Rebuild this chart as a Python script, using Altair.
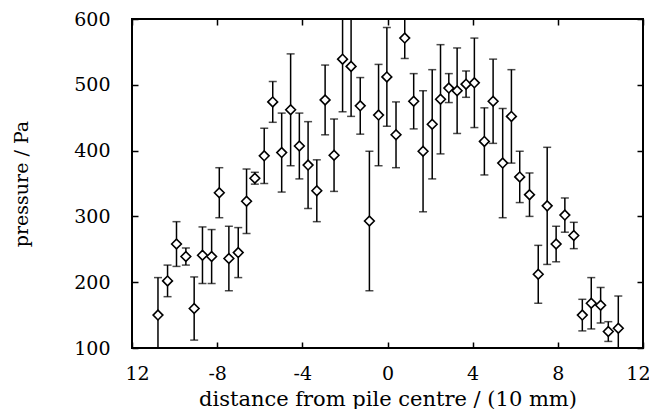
import altair as alt
import pandas as pd

# distance from pile centre (units of 10 mm)
distance = [-10.78, -10.33, -9.91, -9.47, -9.08, -8.69, -8.26, -7.90, -7.45, -7.01,
            -6.62, -6.23, -5.79, -5.39, -4.97, -4.55, -4.14, -3.73, -3.32, -2.93,
            -2.51, -2.11, -1.71, -1.28, -0.85, -0.42, -0.03, 0.40, 0.81, 1.23,
            1.67, 2.10, 2.49, 2.88, 3.27, 3.69, 4.08, 4.55, 4.96, 5.41,
            5.82, 6.21, 6.67, 7.08, 7.50, 7.92, 8.33, 8.75, 9.15, 9.57,
            10.01, 10.37, 10.84]
# pressure (Pa)
pressure = [150, 202, 258, 239, 160, 241, 239, 336, 236, 245,
            323, 358, 392, 474, 397, 462, 407, 378, 339, 477,
            393, 539, 528, 468, 293, 454, 512, 424, 571, 475,
            399, 440, 478, 495, 491, 501, 503, 414, 475, 381,
            452, 360, 333, 212, 316, 258, 302, 271, 150, 168,
            165, 125, 130]
# error half-width (Pa)
error = [57, 24, 34, 13, 48, 43, 41, 38, 49, 38,
         49, 9, 42, 31, 60, 85, 50, 66, 47, 53,
         55, 80, 76, 43, 106, 77, 75, 50, 31, 42,
         92, 83, 83, 22, 65, 20, 68, 51, 64, 83,
         71, 39, 33, 44, 89, 27, 26, 20, 24, 39,
         27, 15, 49]

x_ticks = [-12, -8, -4, 0, 4, 8, 12]
x_tick_labels = ["12", "-8", "-4", "0", "4", "8", "12"]
y_ticks = [100, 200, 300, 400, 500, 600]

df = pd.DataFrame({"d": distance, "p": pressure, "e": error})
df["lo"] = df["p"] - df["e"]
df["hi"] = df["p"] + df["e"]

FONT = "DejaVu Serif"
label_expr = "[" + ",".join(f"'{s}'" for s in x_tick_labels) + "][indexof([" + \
    ",".join(str(v) for v in x_ticks) + "], datum.value)]"

xscale = alt.Scale(domain=[-12, 12], nice=False, zero=False)
yscale = alt.Scale(domain=[100, 600], nice=False, zero=False)

common_axis = dict(domain=False, grid=False, tickSize=6, offset=-6, tickWidth=1.5,
                   tickColor="black", labelFont=FONT, labelFontSize=19,
                   labelColor="black", labelOverlap=False, titleFont=FONT,
                   titleFontWeight="normal", titleColor="black")

x_bottom = alt.Axis(
    orient="bottom", values=x_ticks, labelExpr=label_expr,
    labelPadding=16, labelFlush=False,
    labelAlign={"condition": {"test": "datum.value == 12", "value": "right"},
                "value": "center"},
    labelOffset={"condition": [{"test": "datum.value == -12", "value": 5},
                               {"test": "datum.value == 12", "value": 7}],
                 "value": 0},
    title="distance from pile centre / (10 mm)",
    titleFontSize=21, titlePadding=5, **common_axis)
y_left = alt.Axis(orient="left", values=y_ticks, labelPadding=22, labelFlush=False,
                  title="pressure / Pa", titleFontSize=19, titlePadding=42,
                  **common_axis)
x_top = alt.Axis(orient="top", values=x_ticks, labels=False, title=None,
                 **common_axis)
y_right = alt.Axis(orient="right", values=y_ticks, labels=False, title=None,
                   **common_axis)

base = alt.Chart(df)

bars = base.mark_rule(color="black", strokeWidth=1.5, clip=True).encode(
    x=alt.X("d:Q", scale=xscale, axis=x_bottom),
    y=alt.Y("lo:Q", scale=yscale, axis=y_left),
    y2="hi:Q",
)
cap_lo = base.mark_tick(color="black", orient="horizontal", size=8,
                        thickness=1.5, clip=True).encode(
    x=alt.X("d:Q", scale=xscale, axis=None),
    y=alt.Y("lo:Q", scale=yscale, axis=None),
)
cap_hi = base.mark_tick(color="black", orient="horizontal", size=8,
                        thickness=1.5, clip=True).encode(
    x=alt.X("d:Q", scale=xscale, axis=None),
    y=alt.Y("hi:Q", scale=yscale, axis=None),
)
points = base.mark_point(shape="diamond", filled=True, fill="white",
                         stroke="black", strokeWidth=1.6, size=95,
                         opacity=1, clip=True).encode(
    x=alt.X("d:Q", scale=xscale, axis=x_top),
    y=alt.Y("p:Q", scale=yscale, axis=y_right),
)

chart = alt.layer(bars, cap_lo, cap_hi, points).resolve_axis(
    x="independent", y="independent"
).properties(
    width=511, height=329,
    autosize=alt.AutoSizeParams(type="none"),
    padding={"left": 124, "top": 11, "right": 6, "bottom": 61},
    background="white",
).configure_view(stroke="black", strokeWidth=2)

chart.save("out.html", embed_options={"renderer": "svg", "actions": False})
